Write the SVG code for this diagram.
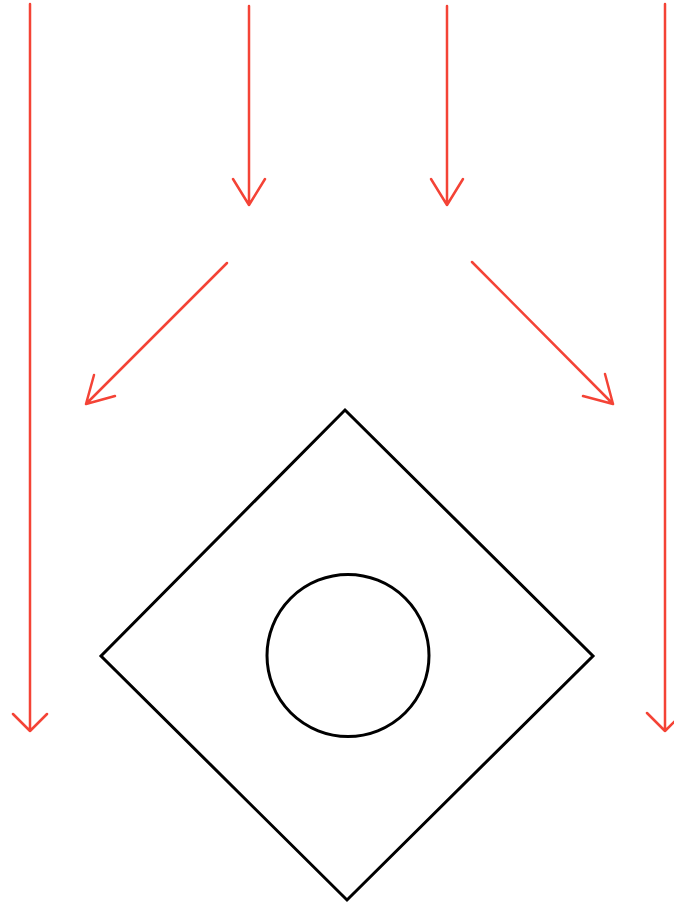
<svg xmlns="http://www.w3.org/2000/svg" width="674" height="904" viewBox="0 0 674 904">
<style>
.arrow{fill:none;stroke:#f44336;stroke-width:2.5;stroke-linecap:round;stroke-linejoin:round}
.shape{fill:none;stroke:#000;stroke-width:3;stroke-linejoin:miter}
</style>
<rect width="674" height="904" fill="#fff"/>
<g id="connectors">
<path class="arrow" d="M30 4V731M13 714L30 731L47 714"/>
<path class="arrow" d="M249 6V205M233 179L249 205L265 179"/>
<path class="arrow" d="M447 6V205M431 179L447 205L463 179"/>
<path class="arrow" d="M665 4V731M647 713L665 731L683 713"/>
<path class="arrow" d="M227 263L86 404M94 375L86 404L115 396"/>
<path class="arrow" d="M472 262L613 404M605 374L613 404L583 396"/>
</g>
<g id="diamond">
<path class="shape" d="M345 410L593 656L347 900L101 656Z"/>
</g>
<g id="circle">
<circle class="shape" cx="348" cy="655.5" r="81"/>
</g>
</svg>
